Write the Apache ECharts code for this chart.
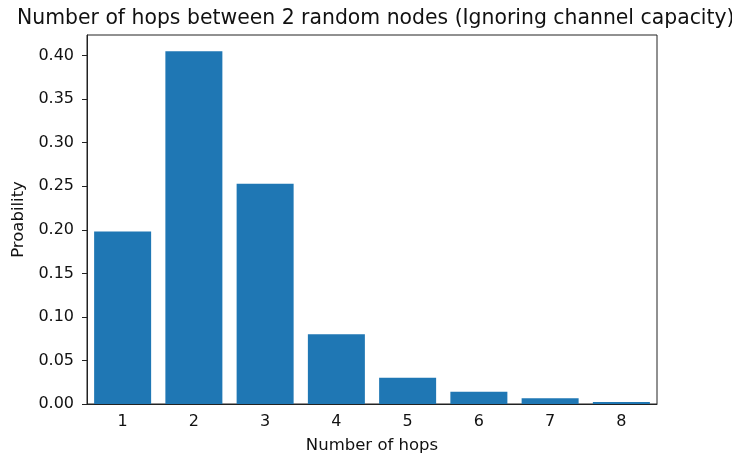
<!DOCTYPE html>
<html>
<head>
<meta charset="utf-8">
<script src="https://cdn.jsdelivr.net/npm/echarts@6/dist/echarts.min.js"></script>
<style>
  html, body { margin: 0; padding: 0; background: #fff; }
  #chart { width: 732px; height: 457px; }
</style>
</head>
<body>
<div id="chart"></div>
<script>
var hops = ['1', '2', '3', '4', '5', '6', '7', '8'];
var probability = [0.198, 0.405, 0.253, 0.080, 0.030, 0.014, 0.0065, 0.0023];
var yTicks = [0, 0.05, 0.10, 0.15, 0.20, 0.25, 0.30, 0.35, 0.40];

var fontFam = 'DejaVu Sans';
var chart = echarts.init(document.getElementById('chart'), null, { renderer: 'canvas' });

var option = {
    backgroundColor: '#fff',
    animation: false,
    title: {
        text: 'Number of hops between 2 random nodes (Ignoring channel capacity)',
        left: 12,
        top: 4,
        textStyle: {
            fontFamily: fontFam,
            fontSize: 20.4,
            fontWeight: 'normal',
            color: '#111'
        }
    },
    grid: {
        left: 87,
        right: 75,
        top: 35,
        bottom: 53,
        outerBoundsMode: 'none',
        show: true,
        borderColor: '#222',
        borderWidth: 1,
        backgroundColor: 'transparent'
    },
    xAxis: {
        type: 'category',
        data: hops,
        name: 'Number of hops',
        nameLocation: 'middle',
        nameGap: 33,
        nameTextStyle: { fontFamily: fontFam, fontSize: 16.5, color: '#111' },
        axisLine: { lineStyle: { color: '#222', width: 1 } },
        axisTick: { alignWithLabel: true, length: 5, lineStyle: { color: '#222' } },
        axisLabel: { fontFamily: fontFam, fontSize: 16, color: '#111', margin: 10 },
        splitLine: { show: false }
    },
    yAxis: {
        type: 'value',
        min: 0,
        max: 0.4237,
        name: 'Proability',
        nameLocation: 'middle',
        nameGap: 60,
        nameTextStyle: { fontFamily: fontFam, fontSize: 16.5, color: '#111' },
        axisLine: { show: true, lineStyle: { color: '#222', width: 1 } },
        axisTick: { show: true, length: 5, customValues: yTicks, lineStyle: { color: '#222' } },
        axisLabel: {
            fontFamily: fontFam,
            fontSize: 16,
            color: '#111',
            margin: 13,
            customValues: yTicks,
            formatter: function (v) { return v.toFixed(2); }
        },
        splitLine: { show: false }
    },
    series: [{
        type: 'bar',
        data: probability,
        barWidth: '80%',
        itemStyle: { color: '#1f77b4' }
    }]
};
chart.setOption(option);
</script>
</body>
</html>
